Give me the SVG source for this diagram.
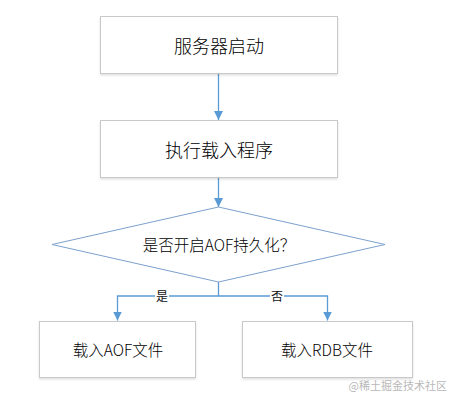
<svg xmlns="http://www.w3.org/2000/svg" width="458" height="401" viewBox="0 0 458 401">
  <defs>
    <filter id="sh" x="-5%" y="-10%" width="110%" height="125%">
      <feDropShadow dx="0" dy="1.5" stdDeviation="1" flood-color="#000" flood-opacity="0.12"/>
    </filter>
    <marker id="arr" viewBox="0 0 10 10" refX="10" refY="5" markerWidth="9" markerHeight="9" markerUnits="userSpaceOnUse" orient="auto">
      <path d="M0,0 L10,5 L0,10 z" fill="#5b9bd5"/>
    </marker>
  </defs>
  <style>
    .box { fill: #ffffff; stroke: #c9c9c9; stroke-width: 1; }
    .dia { fill: #ffffff; stroke: #7da1cc; stroke-width: 1; }
    .t { font-family: "Microsoft YaHei", "Noto Sans CJK SC", "Noto Sans", sans-serif; font-weight: 300; fill: #000; text-anchor: middle; dominant-baseline: central; }
    .lbl { font-family: "Noto Sans CJK SC", sans-serif; fill: #111; font-size: 12px; text-anchor: middle; dominant-baseline: central; }
    .c { fill: none; stroke: #5b9bd5; stroke-width: 1.3; }
  </style>
  <rect width="458" height="401" fill="#ffffff"/>
  <g id="connectors">
    <path class="c" d="M218.5,73 L218.5,120" marker-end="url(#arr)"/>
    <path class="c" d="M218.5,177 L218.5,207" marker-end="url(#arr)"/>
    <path class="c" d="M218.5,282 L218.5,296 L117.5,296 L117.5,320.5" marker-end="url(#arr)"/>
    <path class="c" d="M218.5,296 L327.5,296 L327.5,320.5" marker-end="url(#arr)"/>
    <rect x="155" y="289" width="14" height="14" fill="#fff"/>
    <rect x="270" y="289" width="14" height="14" fill="#fff"/>
    <text class="lbl" x="162" y="295">是</text>
    <text class="lbl" x="277" y="295">否</text>
  </g>
  <g id="start">
    <rect class="box" x="100.5" y="16.5" width="237" height="57" filter="url(#sh)"/>
    <text class="t" x="219" y="45" font-size="18">服务器启动</text>
  </g>
  <g id="load">
    <rect class="box" x="100.5" y="120.5" width="237" height="57" filter="url(#sh)"/>
    <text class="t" x="219" y="149" font-size="18">执行载入程序</text>
  </g>
  <g id="decision">
    <polygon class="dia" points="218.5,207 385,244.5 218.5,282 52,244.5"/>
    <text class="t" x="219" y="244" font-size="15.5">是否开启AOF持久化？</text>
  </g>
  <g id="aof">
    <rect class="box" x="39.5" y="321.5" width="156" height="56" filter="url(#sh)"/>
    <text class="t" x="118" y="349" font-size="15.5">载入AOF文件</text>
  </g>
  <g id="rdb">
    <rect class="box" x="242.5" y="321.5" width="170" height="56" filter="url(#sh)"/>
    <text class="t" x="327" y="349" font-size="15.5">载入RDB文件</text>
  </g>
  <text x="447" y="385" font-family="Noto Sans CJK SC, sans-serif" font-size="11" fill="#b8b8b8" text-anchor="end" dominant-baseline="central">@稀土掘金技术社区</text>
</svg>
